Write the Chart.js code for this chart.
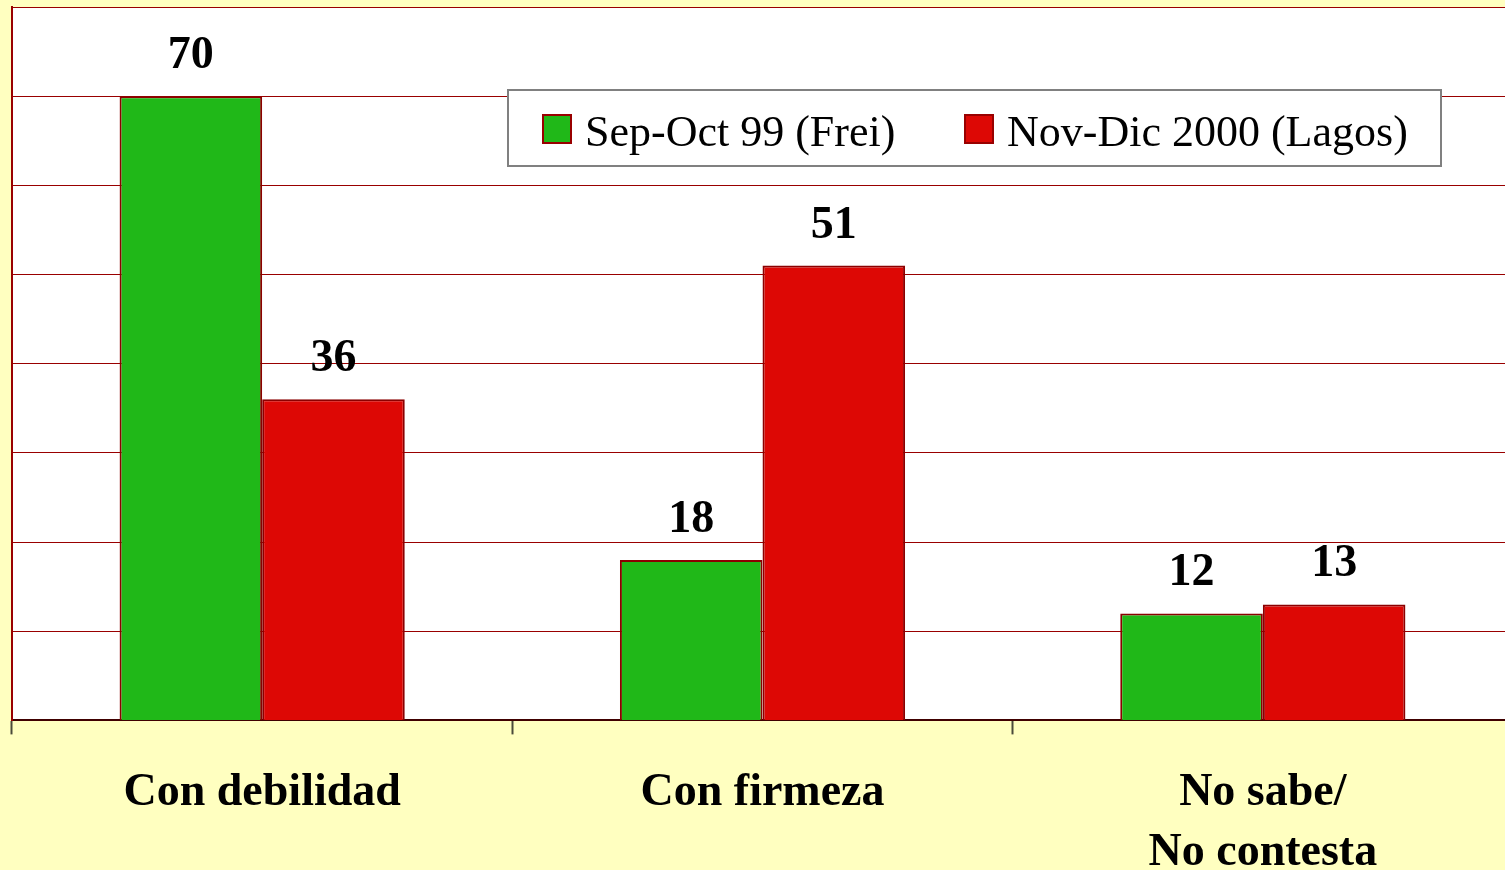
<!DOCTYPE html>
<html>
<head>
<meta charset="utf-8">
<script src="https://cdn.jsdelivr.net/npm/chart.js@4"></script>
<style>
  html, body { margin: 0; padding: 0; background: #FFFFC0; overflow: hidden; }
  #wrap { position: absolute; left: 0; top: 0; width: 1515px; height: 912px; }
</style>
</head>
<body>
<div id="wrap"><canvas id="grafico" width="1515" height="912"></canvas></div>
<script>
// datos
const categorias = ["Con debilidad", "Con firmeza", ["No sabe/", "No contesta"]];
const serieFrei = [70, 18, 12];
const serieLagos = [36, 51, 13];
const nombresSeries = ["Sep-Oct 99 (Frei)", "Nov-Dic 2000 (Lagos)"];
const ejeY = { min: 0, max: 80, paso: 10 };

const verde = "#20B818";
const rojo = "#DD0805";
const granate = "#990000";
const fuente = "'Times New Roman', 'Liberation Serif', Times, serif";

// fondo blanco del area de trazado
const fondoArea = {
  id: "fondoArea",
  beforeDraw(chart) {
    const { ctx, chartArea: a } = chart;
    ctx.save();
    ctx.fillStyle = "#FFFFFF";
    ctx.fillRect(a.left, a.top, a.right - a.left, a.bottom - a.top);
    ctx.restore();
  }
};

// valores encima de cada barra
const etiquetasValor = {
  id: "etiquetasValor",
  afterDatasetsDraw(chart) {
    const ctx = chart.ctx;
    ctx.save();
    ctx.font = "bold 46px " + fuente;
    ctx.fillStyle = "#000";
    ctx.textAlign = "center";
    ctx.textBaseline = "alphabetic";
    chart.data.datasets.forEach((ds, i) => {
      chart.getDatasetMeta(i).data.forEach((bar, j) => {
        ctx.fillText(ds.data[j], bar.x, bar.y - 28);
      });
    });
    ctx.restore();
  }
};

// leyenda en recuadro blanco
const leyenda = {
  id: "leyenda",
  afterDatasetsDraw(chart) {
    const ctx = chart.ctx;
    const caja = { x: 508, y: 90, w: 933, h: 76 };
    const items = [{ sx: 543, tx: 585 }, { sx: 965, tx: 1007 }];
    ctx.save();
    ctx.fillStyle = "#FFFFFF";
    ctx.fillRect(caja.x, caja.y, caja.w, caja.h);
    ctx.strokeStyle = "#808080";
    ctx.lineWidth = 2;
    ctx.strokeRect(caja.x, caja.y, caja.w, caja.h);
    ctx.font = "44px " + fuente;
    ctx.textBaseline = "alphabetic";
    ctx.textAlign = "left";
    chart.data.datasets.forEach((ds, i) => {
      const it = items[i];
      ctx.fillStyle = ds.backgroundColor;
      ctx.fillRect(it.sx, 115, 28, 28);
      ctx.strokeStyle = granate;
      ctx.lineWidth = 2;
      ctx.strokeRect(it.sx, 115, 28, 28);
      ctx.fillStyle = "#000";
      ctx.fillText(ds.label, it.tx, 146);
    });
    ctx.restore();
  }
};

const grafico = new Chart(document.getElementById("grafico"), {
  type: "bar",
  data: {
    labels: categorias,
    datasets: [
      {
        label: nombresSeries[0],
        data: serieFrei,
        backgroundColor: verde,
        borderColor: "#8B0000",
        borderWidth: 2
      },
      {
        label: nombresSeries[1],
        data: serieLagos,
        backgroundColor: rojo,
        borderColor: "#8B0000",
        borderWidth: 2
      }
    ]
  },
  options: {
    responsive: false,
    animation: false,
    events: [],
    layout: { padding: { left: 12, top: 7, right: 2, bottom: 0 } },
    datasets: {
      bar: { categoryPercentage: 0.57, barPercentage: 1.0 }
    },
    scales: {
      x: {
        grid: {
          offset: true,
          drawOnChartArea: false,
          drawTicks: true,
          tickLength: 14,
          tickColor: "#4a4a3a",
          tickWidth: 2
        },
        border: { display: true, color: "#400000", width: 2 },
        ticks: {
          color: "#000",
          padding: 29,
          font: { family: fuente, size: 46, weight: "bold", lineHeight: 1.3 }
        }
      },
      y: {
        min: ejeY.min,
        max: ejeY.max,
        ticks: { display: false, stepSize: ejeY.paso },
        grid: { color: granate, lineWidth: 1, drawTicks: false },
        border: { display: true, color: granate, width: 2 }
      }
    },
    plugins: {
      legend: { display: false },
      tooltip: { enabled: false }
    }
  },
  plugins: [fondoArea, etiquetasValor, leyenda]
});
</script>
</body>
</html>
